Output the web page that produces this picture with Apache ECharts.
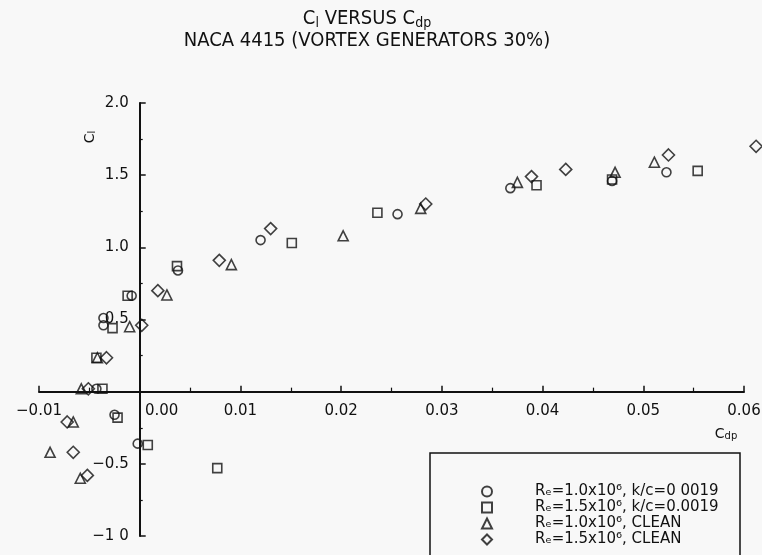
<!DOCTYPE html>
<html>
<head>
<meta charset="utf-8">
<script src="https://cdn.jsdelivr.net/npm/echarts@6/dist/echarts.min.js"></script>
<style>
  html, body { margin: 0; padding: 0; background: #f8f8f8; }
  #chart { width: 762px; height: 555px; }
</style>
</head>
<body>
<div id="chart"></div>
<script>
// Lift coefficient Cl against pressure-drag coefficient Cdp, NACA 4415 with vortex generators.
// Each point is [Cdp, Cl].
const circleRe10Rough = [
  [-0.0036, 0.51], [-0.0036, 0.46], [-0.0008, 0.665], [-0.0043, 0.02],
  [-0.0025, -0.16], [-0.0002, -0.36], [0.0038, 0.84], [0.0120, 1.05],
  [0.0256, 1.23], [0.0368, 1.41], [0.0469, 1.46], [0.0523, 1.52]
];
const squareRe15Rough = [
  [-0.0027, 0.44], [-0.0012, 0.665], [-0.0043, 0.235], [-0.0037, 0.02],
  [-0.0022, -0.18], [0.0008, -0.37], [0.0037, 0.87], [0.0077, -0.53],
  [0.0151, 1.03], [0.0236, 1.24], [0.0394, 1.43], [0.0469, 1.47], [0.0554, 1.53]
];
const triangleRe10Clean = [
  [-0.0010, 0.45], [-0.0042, 0.235], [-0.0058, 0.02], [-0.0066, -0.21],
  [-0.0089, -0.42], [-0.0059, -0.60], [0.0027, 0.67], [0.0091, 0.88],
  [0.0202, 1.08], [0.0279, 1.27], [0.0375, 1.45], [0.0472, 1.52], [0.0511, 1.59]
];
const diamondRe15Clean = [
  [0.0002, 0.46], [-0.0033, 0.235], [-0.0051, 0.02], [-0.0072, -0.21],
  [-0.0066, -0.42], [-0.0052, -0.58], [0.0018, 0.70], [0.0079, 0.91],
  [0.0130, 1.13], [0.0284, 1.30], [0.0389, 1.49], [0.0423, 1.54],
  [0.0525, 1.64], [0.0612, 1.70]
];

const seriesNames = [
  'Rₑ=1.0x10⁶, k/c=0 0019',
  'Rₑ=1.5x10⁶, k/c=0.0019',
  'Rₑ=1.0x10⁶, CLEAN',
  'Rₑ=1.5x10⁶, CLEAN'
];

const xTickLabels = ['−0.01', '0.00', '0.01', '0.02', '0.03', '0.04', '0.05', '0.06'];
const yTickLabels = ['−1 0', '−0.5', '', '0.5', '1.0', '1.5', '2.0'];

const X_MIN = -0.01, X_MAX = 0.06, Y_MIN = -1, Y_MAX = 2;

const INK = '#111';
const FONT = '"DejaVu Sans", "Liberation Sans", Arial, sans-serif';
const TITLE_FONT = '"DejaVu Sans Condensed", "Liberation Sans Narrow", "DejaVu Sans", sans-serif';

const W = 762, H = 555;
const GRID = { left: 39, right: 18, top: 103, bottom: 19 };
const plotW = W - GRID.left - GRID.right;
const plotH = H - GRID.top - GRID.bottom;
// Axes cross at the origin: shift each axis from the grid edge onto zero.
const xAxisShift = plotH * (0 - Y_MIN) / (Y_MAX - Y_MIN);
const yAxisShift = plotW * (0 - X_MIN) / (X_MAX - X_MIN);

const chart = echarts.init(document.getElementById('chart'), null, { renderer: 'canvas' });

function hollow(name, symbol, size, data) {
  return {
    name: name,
    type: 'scatter',
    symbol: symbol,
    symbolSize: size,
    clip: false,
    data: data,
    itemStyle: { color: 'rgba(0,0,0,0)', borderColor: INK, borderWidth: 1.6 },
    emphasis: { disabled: true }
  };
}

chart.setOption({
  backgroundColor: '#f8f8f8',
  animation: false,
  title: [{
    text: 'C{s|l} VERSUS C{s|dp}\nNACA 4415 (VORTEX GENERATORS 30%)',
    left: 362,
    textAlign: 'center',
    top: 3,
    textStyle: {
      fontFamily: TITLE_FONT, fontSize: 20, fontWeight: 'normal', color: INK, lineHeight: 22,
      rich: {
        s: { fontFamily: TITLE_FONT, fontSize: 14, color: INK, verticalAlign: 'bottom', lineHeight: 14 }
      }
    }
  }],
  grid: Object.assign({ containLabel: false, outerBoundsMode: 'none' }, GRID),
  xAxis: {
    type: 'value',
    min: X_MIN, max: X_MAX, interval: 0.01,
    position: 'bottom',
    offset: -xAxisShift,
    axisLine: { onZero: false, lineStyle: { color: INK, width: 2 } },
    axisTick: { inside: true, length: 6, lineStyle: { color: INK, width: 1.5 } },
    minorTick: { show: true, splitNumber: 2, length: 4, lineStyle: { color: INK, width: 1.2 } },
    splitLine: { show: false },
    axisLabel: {
      margin: 12, fontFamily: FONT, fontSize: 15, color: INK,
      formatter: function (v) {
        const i = Math.round(v * 100) + 1;
        const t = xTickLabels[i] || '';
        return i === 1 ? '{z|' + t + '}' : t;
      },
      rich: { z: { fontFamily: FONT, fontSize: 15, color: INK, padding: [0, 0, 0, 44] } }
    }
  },
  yAxis: {
    type: 'value',
    min: Y_MIN, max: Y_MAX, interval: 0.5,
    position: 'left',
    offset: -yAxisShift,
    axisLine: { onZero: false, lineStyle: { color: INK, width: 2 } },
    axisTick: { inside: true, length: 6, lineStyle: { color: INK, width: 1.5 } },
    minorTick: { show: true, splitNumber: 2, length: 3, lineStyle: { color: INK, width: 1.2 } },
    splitLine: { show: false },
    axisLabel: {
      margin: 11, fontFamily: FONT, fontSize: 15, color: INK,
      formatter: function (v) { return yTickLabels[Math.round(v * 2) + 2] || ''; }
    }
  },
  legend: {
    orient: 'vertical',
    left: 476,
    top: 479,
    itemWidth: 10,
    itemHeight: 10,
    itemGap: 1,
    selectedMode: false,
    data: seriesNames,
    textStyle: {
      fontFamily: FONT, fontSize: 15, color: INK, lineHeight: 13, padding: [0, 0, 0, 38]
    }
  },
  graphic: [
    {
      type: 'rect',
      shape: { x: 430, y: 453, width: 310, height: 130 },
      style: { fill: 'none', stroke: INK, lineWidth: 1.5 },
      silent: true
    },
    {
      type: 'text',
      x: 90, y: 137,
      rotation: Math.PI / 2,
      style: {
        text: 'C{s|l}', fontFamily: FONT, fontSize: 14, fill: INK,
        align: 'center', verticalAlign: 'middle',
        rich: { s: { fontFamily: FONT, fontSize: 10, fill: INK, verticalAlign: 'bottom', lineHeight: 10 } }
      },
      silent: true
    },
    {
      type: 'text',
      x: 726, y: 434,
      style: {
        text: 'C{s|dp}', fontFamily: FONT, fontSize: 14, fill: INK,
        align: 'center', verticalAlign: 'middle',
        rich: { s: { fontFamily: FONT, fontSize: 10, fill: INK, verticalAlign: 'bottom', lineHeight: 10 } }
      },
      silent: true
    }
  ],
  series: [
    hollow(seriesNames[0], 'circle', 9, circleRe10Rough),
    hollow(seriesNames[1], 'rect', 9, squareRe15Rough),
    hollow(seriesNames[2], 'triangle', 10, triangleRe10Clean),
    hollow(seriesNames[3], 'diamond', 12, diamondRe15Clean)
  ]
});
</script>
</body>
</html>
